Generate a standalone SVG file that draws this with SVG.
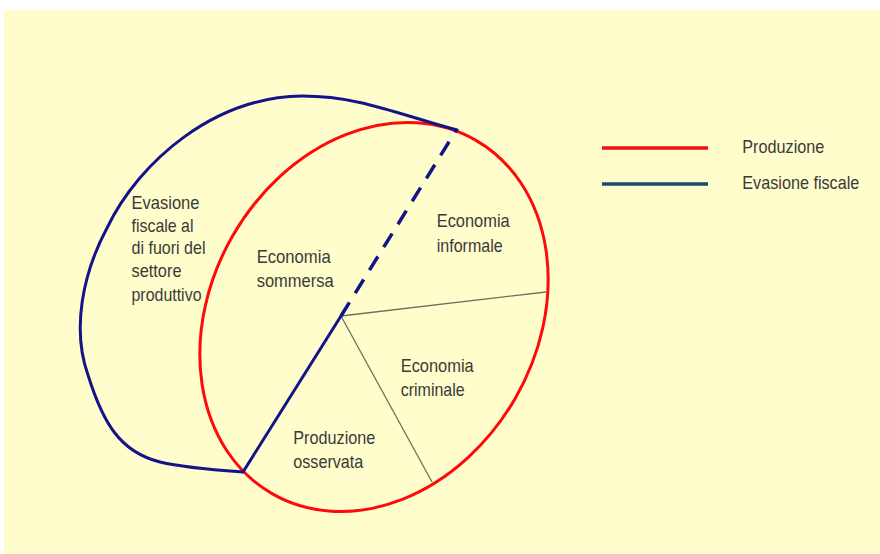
<svg xmlns="http://www.w3.org/2000/svg" width="880" height="554" viewBox="0 0 880 554">
  <style>
    .lbl { font-family: "Liberation Sans", Arial, sans-serif; font-size: 18.5px; fill: #3a3a3a; }
    .red { fill: none; stroke: #ff0a0a; stroke-width: 3; }
    .blue { fill: none; stroke: #13148a; stroke-width: 3; stroke-linecap: round; stroke-linejoin: round; }
    .dash { fill: none; stroke: #13148a; stroke-width: 3.5; stroke-dasharray: 16 11; }
    .thin { fill: none; stroke: #6e6e5e; stroke-width: 1.3; }
  </style>
  <rect x="0" y="0" width="880" height="554" fill="#ffffff"/>
  <rect x="4" y="10" width="876" height="544" fill="#fffdcb"/>

  <g id="produzione">
    <ellipse class="red" cx="0" cy="0" rx="163" ry="204" transform="translate(374 317) rotate(30)"/>
  </g>

  <g id="connectors">
    <line class="thin" x1="341" y1="316" x2="546" y2="292"/>
    <line class="thin" x1="341" y1="316" x2="432" y2="482"/>
    <line class="dash" x1="341" y1="316" x2="457" y2="129"/>
    <line class="blue" x1="341" y1="316" x2="243" y2="472"/>
  </g>

  <g id="evasione">
    <path class="blue" d="M457,130 C400,115 360,96 302,96 C215,97 140,160 107,228 C82,275 72,330 88,375 C103,423 120,452 160,462 C185,468 215,470 243,472"/>
  </g>

  <g id="label-evasione-esterna">
    <text class="lbl" x="131.5" y="209" textLength="68" lengthAdjust="spacingAndGlyphs">Evasione</text>
    <text class="lbl" x="131.5" y="232" textLength="62" lengthAdjust="spacingAndGlyphs">fiscale al</text>
    <text class="lbl" x="131.5" y="254" textLength="74" lengthAdjust="spacingAndGlyphs">di fuori del</text>
    <text class="lbl" x="131.5" y="277" textLength="50" lengthAdjust="spacingAndGlyphs">settore</text>
    <text class="lbl" x="131.5" y="300.5" textLength="70" lengthAdjust="spacingAndGlyphs">produttivo</text>
  </g>

  <g id="economia-sommersa">
    <text class="lbl" x="256.7" y="263" textLength="74" lengthAdjust="spacingAndGlyphs">Economia</text>
    <text class="lbl" x="256.7" y="287" textLength="77" lengthAdjust="spacingAndGlyphs">sommersa</text>
  </g>

  <g id="economia-informale">
    <text class="lbl" x="436.7" y="227" textLength="73" lengthAdjust="spacingAndGlyphs">Economia</text>
    <text class="lbl" x="436.7" y="251.5" textLength="66" lengthAdjust="spacingAndGlyphs">informale</text>
  </g>

  <g id="economia-criminale">
    <text class="lbl" x="400.7" y="371.5" textLength="73" lengthAdjust="spacingAndGlyphs">Economia</text>
    <text class="lbl" x="400.7" y="395.5" textLength="64" lengthAdjust="spacingAndGlyphs">criminale</text>
  </g>

  <g id="produzione-osservata">
    <text class="lbl" x="293.3" y="443.5" textLength="82" lengthAdjust="spacingAndGlyphs">Produzione</text>
    <text class="lbl" x="293.3" y="467.5" textLength="70" lengthAdjust="spacingAndGlyphs">osservata</text>
  </g>

  <g id="legend">
    <line x1="602" y1="148" x2="708" y2="148" stroke="#f01212" stroke-width="3.5"/>
    <line x1="602" y1="184" x2="708" y2="184" stroke="#1d4a6c" stroke-width="3.5"/>
    <text class="lbl" x="742.3" y="153" textLength="82" lengthAdjust="spacingAndGlyphs">Produzione</text>
    <text class="lbl" x="742.3" y="189" textLength="117" lengthAdjust="spacingAndGlyphs">Evasione fiscale</text>
  </g>
</svg>
